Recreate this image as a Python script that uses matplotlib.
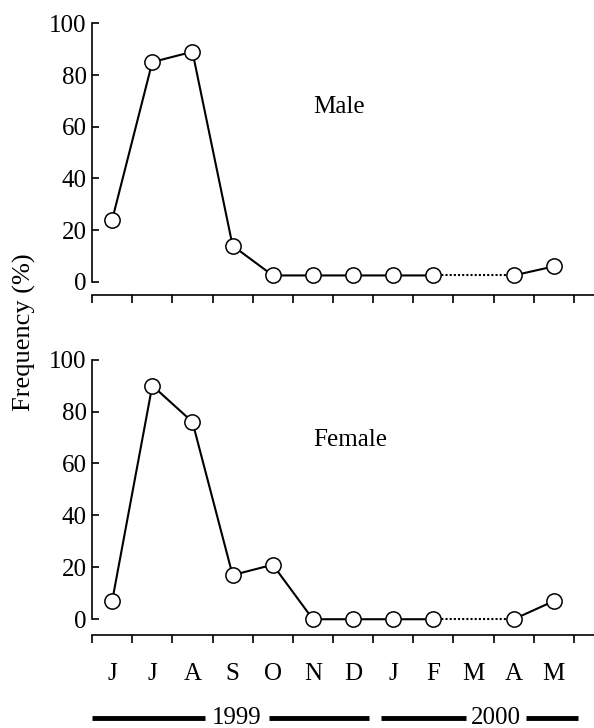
import numpy as np
import matplotlib
matplotlib.use("Agg")
import matplotlib.pyplot as plt
import matplotlib.transforms as mtransforms

months = ["J", "J", "A", "S", "O", "N", "D", "J", "F", "M", "A", "M"]
male = [24, 85, 89, 14, 2.5, 2.5, 2.5, 2.5, 2.5, np.nan, 2.5, 6]
female = [7, 90, 76, 17, 21, 0, 0, 0, 0, np.nan, 0, 7]

plt.rcParams["font.family"] = ["Liberation Serif", "DejaVu Serif"]
plt.rcParams["font.size"] = 18

x = np.arange(len(months))

fig = plt.figure(figsize=(5.94, 7.28), dpi=100)
ax1 = fig.add_axes([0.155, 0.595, 0.845, 0.373])
ax2 = fig.add_axes([0.155, 0.128, 0.845, 0.378])


def draw_panel(ax, vals, label, ybot, ylab):
    vals = np.array(vals, dtype=float)
    ok = ~np.isnan(vals)
    # solid up to F, dotted across the missing month, solid again
    gap = np.where(np.isnan(vals))[0][0]
    ax.plot(x[:gap], vals[:gap], color="black", lw=1.5, zorder=2)
    ax.plot([gap - 1, gap + 1], [vals[gap - 1], vals[gap + 1]], color="black",
            lw=1.5, ls=(0, (1, 1)), zorder=2)
    ax.plot(x[gap + 1:], vals[gap + 1:], color="black", lw=1.5, zorder=2)
    ax.plot(x[ok], vals[ok], "o", ms=11, mfc="white", mec="black", mew=1.1, zorder=3)

    ax.set_xlim(-0.5, 12.0)
    ax.set_ylim(ybot, 100)
    ax.spines["top"].set_visible(False)
    ax.spines["right"].set_visible(False)
    ax.spines["left"].set_bounds(0, 100)
    ax.spines["left"].set_linewidth(1.2)
    ax.spines["bottom"].set_linewidth(1.2)
    ax.set_yticks([0, 20, 40, 60, 80, 100])
    ax.tick_params(axis="y", direction="in", length=5, width=1.2, pad=4)
    ax.set_xticks(np.arange(-0.5, 12, 1.0))
    ax.set_xticklabels([])
    ax.tick_params(axis="x", which="major", direction="out", length=6, width=1.2)
    ax.text(0.44, ylab, label, transform=ax.transAxes, ha="left", va="baseline")


draw_panel(ax1, male, "Male", -5, 0.67)
draw_panel(ax2, female, "Female", -6, 0.687)

ax2.set_xticks(x, minor=True)
ax2.set_xticklabels(months, minor=True)
ax2.tick_params(axis="x", which="minor", length=0, pad=20)

fig.text(0.042, 1 - 332 / 728, "Frequency (%)", rotation=90, ha="center",
         va="center", fontsize=19)

# year bars under the month labels
trans = mtransforms.blended_transform_factory(ax2.transData, fig.transFigure)
ybar = 1 - 718 / 728
for x0, x1 in [(-0.5, 2.3), (3.9, 6.4), (6.7, 8.8), (10.3, 11.6)]:
    fig.add_artist(plt.Line2D([x0, x1], [ybar, ybar], transform=trans,
                              color="black", lw=3.5, solid_capstyle="butt"))
fig.text(3.1, ybar, "1999", transform=trans, ha="center", va="center")
fig.text(9.55, ybar, "2000", transform=trans, ha="center", va="center")

fig.savefig("out.png", dpi=100)
